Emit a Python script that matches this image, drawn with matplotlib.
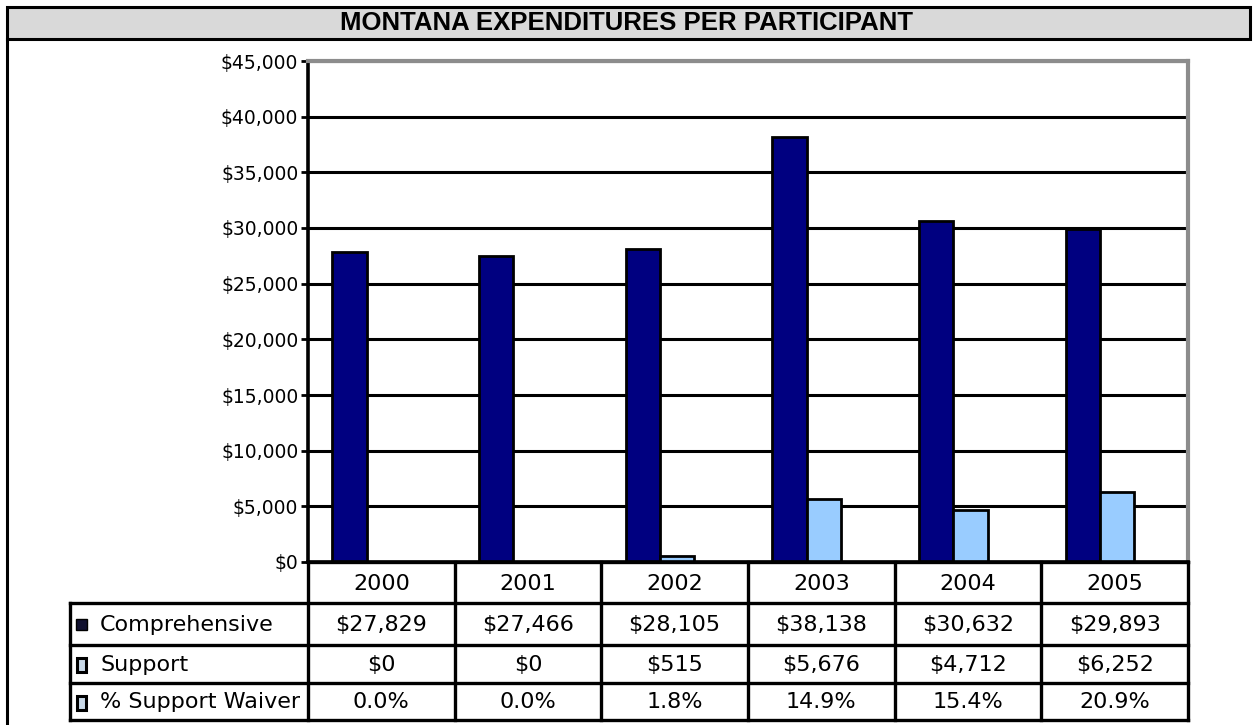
import matplotlib.pyplot as plt
from matplotlib.patches import Rectangle
from matplotlib.lines import Line2D
from matplotlib import ticker

years = ['2000', '2001', '2002', '2003', '2004', '2005']
comprehensive = [27829, 27466, 28105, 38138, 30632, 29893]
support = [0, 0, 515, 5676, 4712, 6252]
pct_waiver = ['0.0%', '0.0%', '1.8%', '14.9%', '15.4%', '20.9%']
row_labels = ['Comprehensive', 'Support', '% Support Waiver']
title = 'MONTANA EXPENDITURES PER PARTICIPANT'

W, H = 1253, 725
NAVY = '#000080'
LIGHT = '#99ccff'


def fx(x):
    return x / W


def fy(y):
    return 1 - y / H


fig = plt.figure(figsize=(W / 100, H / 100), dpi=100)

# outer frame and title band
fig.patches.append(Rectangle((fx(7), fy(39)), fx(1250) - fx(7), fy(7) - fy(39),
                             transform=fig.transFigure, facecolor='#d9d9d9',
                             edgecolor='black', lw=2.2, zorder=0))
fig.lines.append(Line2D([fx(7), fx(7)], [fy(39), 0], transform=fig.transFigure,
                        color='black', lw=2.2))
fig.text(fx(626), fy(23), title, ha='center', va='center', fontsize=18.5,
         fontweight='bold', family='Liberation Sans')

# chart area
left, right, top, bottom = 308, 1188, 61, 562
ax = fig.add_axes([fx(left), fy(bottom), fx(right) - fx(left), fy(top) - fy(bottom)])
x = range(len(years))
ax.bar([i + 0.165 for i in x], comprehensive, width=0.235, align='edge',
       color=NAVY, edgecolor='black', lw=2, zorder=2)
ax.bar([i + 0.40 for i in x], support, width=0.235, align='edge',
       color=LIGHT, edgecolor='black', lw=2, zorder=2)
ax.set_xlim(0, len(years))
ax.set_ylim(0, 45000)
ax.yaxis.set_major_locator(ticker.MultipleLocator(5000))
ax.yaxis.set_major_formatter(ticker.FuncFormatter(lambda v, p: '${:,.0f}'.format(v)))
ax.set_xticks([])
ax.set_axisbelow(True)
ax.yaxis.grid(True, color='black', lw=2.2)
ax.tick_params(axis='y', length=5, width=2, pad=2, labelsize=13.5)
for s in ['top', 'right']:
    ax.spines[s].set_color('#8c8c8c')
    ax.spines[s].set_linewidth(3)
for s in ['left', 'bottom']:
    ax.spines[s].set_linewidth(2.6)

# data table
col_w = (right - left) / len(years)
row_y = [562, 603, 645, 683, 720]
lw = 2.4
fs = 16
# header row
for i, yr in enumerate(years):
    x0 = left + i * col_w
    fig.text(fx(x0 + col_w / 2), fy((row_y[0] + row_y[1]) / 2 + 1), yr,
             ha='center', va='center', fontsize=fs)
rows = [['${:,}'.format(v) for v in comprehensive],
        ['${:,}'.format(v) for v in support],
        pct_waiver]
for r, (lab, vals) in enumerate(zip(row_labels, rows)):
    ymid = (row_y[r + 1] + row_y[r + 2]) / 2 + 1
    fig.text(fx(100), fy(ymid), lab, ha='left', va='center', fontsize=fs)
    for i, v in enumerate(vals):
        x0 = left + i * col_w
        fig.text(fx(x0 + col_w / 2), fy(ymid), v, ha='center', va='center', fontsize=fs)
    # legend keys
    if r == 0:
        key = Rectangle((fx(76), fy(ymid + 5)), fx(11), 11 / H, transform=fig.transFigure,
                        facecolor='#101030', edgecolor='black', lw=1)
    else:
        key = Rectangle((fx(77), fy(ymid + 7)), fx(9), 14 / H, transform=fig.transFigure,
                        facecolor='#c8d8e8', edgecolor='black', lw=2.2)
    fig.patches.append(key)

# horizontal lines
fig.lines.append(Line2D([fx(left), fx(right)], [fy(row_y[0])] * 2,
                        transform=fig.transFigure, color='black', lw=lw))
for yv in row_y[1:]:
    fig.lines.append(Line2D([fx(70), fx(right)], [fy(yv)] * 2,
                            transform=fig.transFigure, color='black', lw=lw))
# vertical lines
fig.lines.append(Line2D([fx(70), fx(70)], [fy(row_y[1]), fy(row_y[-1])],
                        transform=fig.transFigure, color='black', lw=lw))
for i in range(len(years) + 1):
    xv = left + i * col_w
    fig.lines.append(Line2D([fx(xv), fx(xv)], [fy(row_y[0]), fy(row_y[-1])],
                            transform=fig.transFigure, color='black', lw=lw))

fig.savefig('out.png', dpi=100)
